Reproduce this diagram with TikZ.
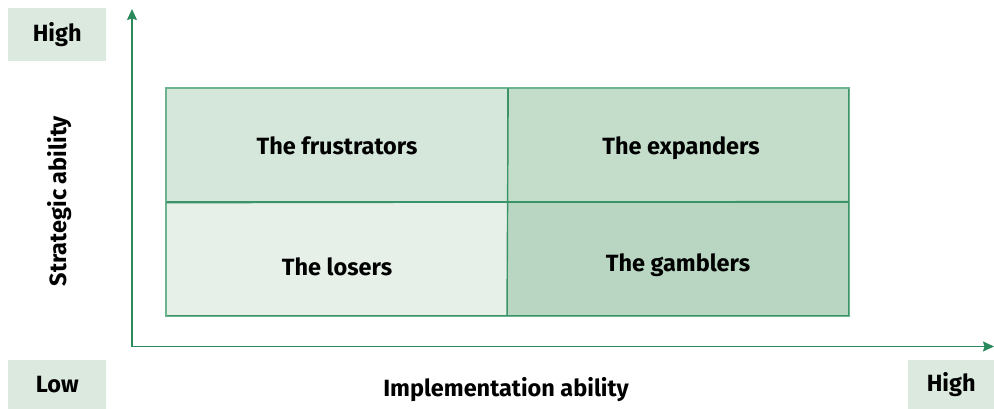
\documentclass[tikz,border=0pt]{standalone}
\usepackage{fontspec}
\setmainfont{Fira Sans}
\usetikzlibrary{arrows.meta}
\definecolor{axisgreen}{HTML}{2A8A5C}
\definecolor{gridline}{HTML}{3B9468}
\definecolor{outerline}{HTML}{6DB48E}
\definecolor{labelfill}{HTML}{DCE9DF}
\definecolor{cTL}{HTML}{D5E7DB}
\definecolor{cTR}{HTML}{C4DDCB}
\definecolor{cBL}{HTML}{E6F0E8}
\definecolor{cBR}{HTML}{B8D6C2}
\tikzset{
  txt/.style={font=\fontsize{23.5}{26}\selectfont\bfseries, text=black},
  levelbox/.style={txt, fill=labelfill, draw=none, inner sep=0pt, anchor=north west},
  cell/.style={fill=#1, draw=gridline, line width=1.2pt, inner sep=0pt, anchor=north west, minimum width=341pt, minimum height=113.5pt},
  celltext/.style={txt, inner sep=0pt, anchor=base},
  axis/.style={draw=axisgreen, line width=1.3pt, -{Stealth[length=11pt,width=10pt,inset=1.5pt]}}
}
\begin{document}
\begin{tikzpicture}[x=1pt,y=-1pt]
\useasboundingbox (0,0) rectangle (994,409);
% level labels
\node[levelbox, minimum width=98pt, minimum height=53pt] (hightop) at (8,8) {High};
\node[levelbox, minimum width=98pt, minimum height=49pt] (low) at (8,360) {Low};
\node[levelbox, minimum width=86pt, minimum height=49pt] (highright) at (908,360) {High};
% quadrants
\node[cell=cTL] (frus) at (166,88) {};
\node[cell=cTR] (expa) at (507,88) {};
\node[cell=cBL] (lose) at (166,201.5) {};
\node[cell=cBR] (gamb) at (507,201.5) {};
\node[celltext] (frust) at (337,155) {The frustrators};
\node[celltext] (expat) at (681,155) {The expanders};
\node[celltext] (loset) at (337,275.5) {The losers};
\node[celltext] (gambt) at (678,271.5) {The gamblers};
\draw[outerline, line width=1.2pt] (frus.north west) rectangle (gamb.south east);
\draw[gridline, line width=1.4pt] (frus.north east) -- (gamb.south west);
\draw[gridline, line width=1.4pt] (frus.south west) -- (gamb.north east);
% axes
\coordinate (origin) at (132,346.5);
\coordinate (ytip) at (132,9);
\coordinate (xtip) at (994,346.5);
\draw[axis] (origin) -- (ytip);
\draw[axis] (origin) -- (xtip);
% axis titles
\node[txt, rotate=90] (ylab) at (60,201) {Strategic ability};
\node[txt, anchor=base, inner sep=0pt] (xlab) at (506,396.5) {Implementation ability};
\end{tikzpicture}
\end{document}
